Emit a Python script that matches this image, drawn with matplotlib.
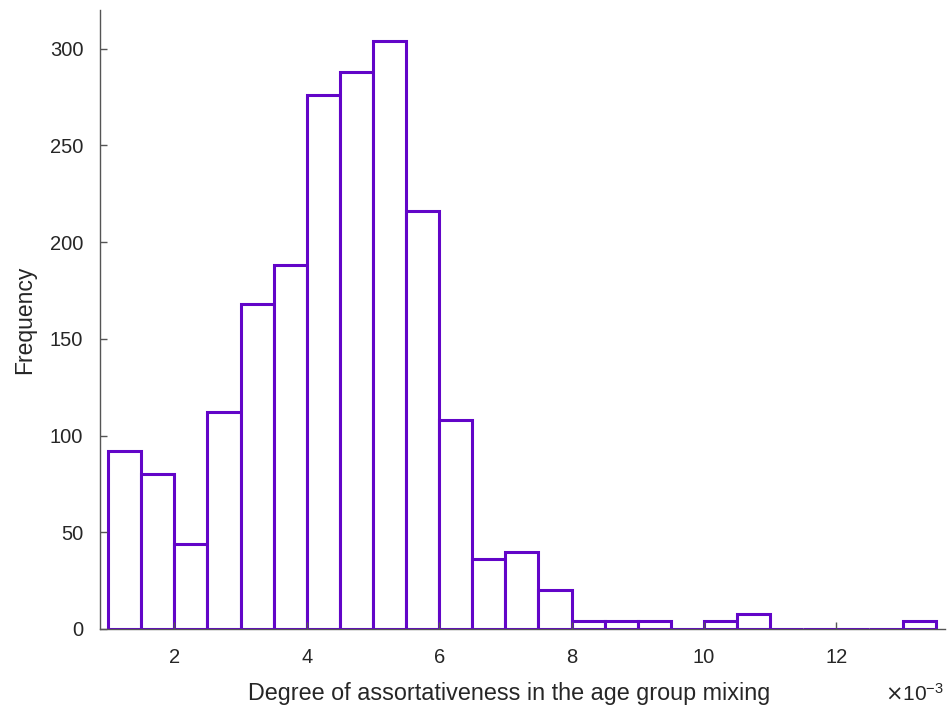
# histogram of assortativeness degree (MATLAB-style look)

import matplotlib.pyplot as plt

plt.rcParams['font.family'] = ['Liberation Sans', 'DejaVu Sans']
plt.rcParams['axes.unicode_minus'] = False

# bin edges in units of 1e-3
bin_edges = [1.0, 1.5, 2.0, 2.5, 3.0, 3.5, 4.0, 4.5, 5.0, 5.5, 6.0, 6.5, 7.0,
             7.5, 8.0, 8.5, 9.0, 9.5, 10.0, 10.5, 11.0, 11.5, 12.0, 12.5, 13.0, 13.5]
counts = [92, 80, 44, 112, 168, 188, 276, 288, 304, 216, 108, 36, 40,
          20, 4, 4, 4, 0, 4, 8, 0, 0, 0, 0, 4]
x_ticks = [2, 4, 6, 8, 10, 12]
y_ticks = [0, 50, 100, 150, 200, 250, 300]

bar_color = '#6205c8'
axis_color = '#555555'
text_color = '#262626'

fig = plt.figure(figsize=(9.5, 7.15), dpi=100)
ax = fig.add_axes([0.1053, 0.1203, 0.8894, 0.8657])

widths = [bin_edges[i + 1] - bin_edges[i] for i in range(len(counts))]
ax.bar(bin_edges[:-1], counts, width=widths, align='edge',
       facecolor='white', edgecolor=bar_color, linewidth=2.2)

ax.set_xlim(0.878, 13.64)
ax.set_ylim(0, 320)
ax.set_xticks(x_ticks)
ax.set_yticks(y_ticks)

for side in ['top', 'right']:
    ax.spines[side].set_visible(False)
for side in ['left', 'bottom']:
    ax.spines[side].set_color(axis_color)
    ax.spines[side].set_linewidth(1.0)

ax.tick_params(direction='in', length=5, width=1, color=axis_color,
               labelcolor=text_color, labelsize=14.5)
ax.tick_params(axis='x', pad=14)
ax.tick_params(axis='y', pad=12)

ax.set_xlabel('Degree of assortativeness in the age group mixing',
              fontsize=16.8, color=text_color)
ax.xaxis.set_label_coords(0.484, -0.104, transform=ax.transAxes)
ax.xaxis.label.set_va('center')
ax.set_ylabel('Frequency', fontsize=16.5, color=text_color, labelpad=10)

ax.text(0.9985, -0.104, r'$\times\mathregular{10^{-3}}$', transform=ax.transAxes,
        ha='right', va='center', fontsize=15, color=text_color)

fig.savefig('out.png', dpi=100)
